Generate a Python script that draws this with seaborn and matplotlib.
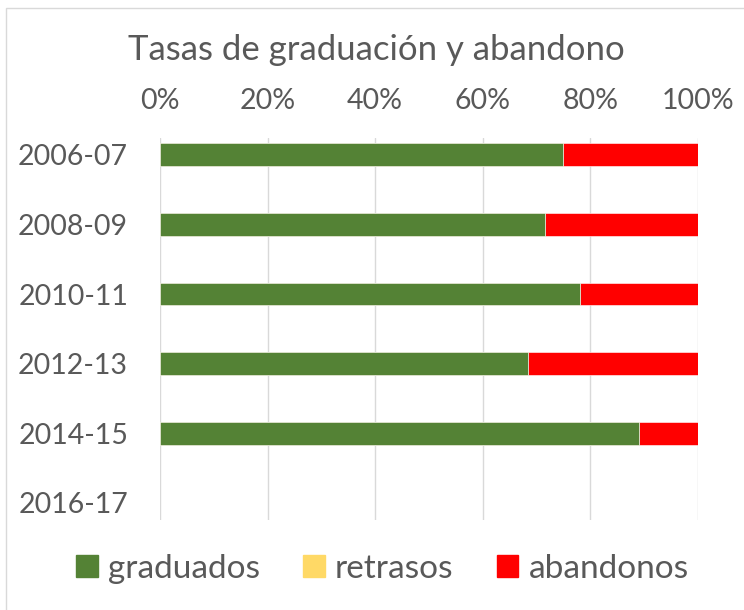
import numpy as np
import pandas as pd
import matplotlib
matplotlib.use('Agg')
import matplotlib.pyplot as plt
import matplotlib.patches as mpatches
import seaborn as sns

# datos (porcentajes)
cursos = ['2006-07', '2008-09', '2010-11', '2012-13', '2014-15', '2016-17']
graduados = [75, 71.5, 78, 68.5, 89, np.nan]
retrasos = [0, 0, 0, 0, 0, np.nan]
abandonos = [25, 28.5, 22, 31.5, 11, np.nan]

verde = '#548235'
amarillo = '#FFD966'
rojo = '#FF0000'
gris = '#595959'

df = pd.DataFrame({'curso': cursos, 'graduados': graduados,
                   'retrasos': retrasos, 'abandonos': abandonos})
df['hasta_retrasos'] = df['graduados'] + df['retrasos']
df['total'] = df['hasta_retrasos'] + df['abandonos']

sns.set_style('white')
plt.rcParams['font.family'] = ['Lato', 'DejaVu Sans']

fig = plt.figure(figsize=(7.44, 6.10), dpi=100)
ax = fig.add_axes([0.215, 0.1475, 0.723, 0.627])

# barras apiladas: se dibuja el acumulado de mayor a menor
for col, color in [('total', rojo), ('hasta_retrasos', amarillo), ('graduados', verde)]:
    sns.barplot(data=df, x=col, y='curso', orient='h', color=color,
                width=0.33, saturation=1, edgecolor='white', linewidth=0.4,
                order=cursos, ax=ax, zorder=3)

ax.set_xlim(0, 100)
ax.set_ylim(5.25, -0.25)
ax.set_xticks([0, 20, 40, 60, 80, 100])
ax.set_xticklabels(['0%', '20%', '40%', '60%', '80%', '100%'])
ax.xaxis.tick_top()
ax.tick_params(axis='x', length=0, pad=17, labelsize=20.5, labelcolor=gris)
ax.tick_params(axis='y', length=0, pad=23, labelsize=20.5, labelcolor=gris)
ax.set_xlabel('')
ax.set_ylabel('')
ax.grid(axis='x', color='#d9d9d9', linewidth=1, zorder=0)
ax.grid(axis='y', visible=False)
for s in ax.spines.values():
    s.set_visible(False)

fig.text(0.506, 0.918, 'Tasas de graduación y abandono', ha='center', va='center',
         fontsize=25, color=gris)

handles = [mpatches.Patch(color=verde, label='graduados'),
           mpatches.Patch(color=amarillo, label='retrasos'),
           mpatches.Patch(color=rojo, label='abandonos')]
leg = fig.legend(handles=handles, loc='center', bbox_to_anchor=(0.514, 0.068), ncol=3,
                 frameon=False, fontsize=24, handlelength=0.65, handleheight=0.65,
                 handletextpad=0.3, columnspacing=1.3, labelcolor=gris)

# marco del gráfico (recortado a la derecha y abajo)
fig.add_artist(mpatches.Rectangle((6 / 744, -0.1), 1.2, 1.1 - 8 / 610,
                                  transform=fig.transFigure, fill=False,
                                  edgecolor='#d9d9d9', linewidth=1))

fig.savefig('out.png', dpi=100, facecolor='white')
